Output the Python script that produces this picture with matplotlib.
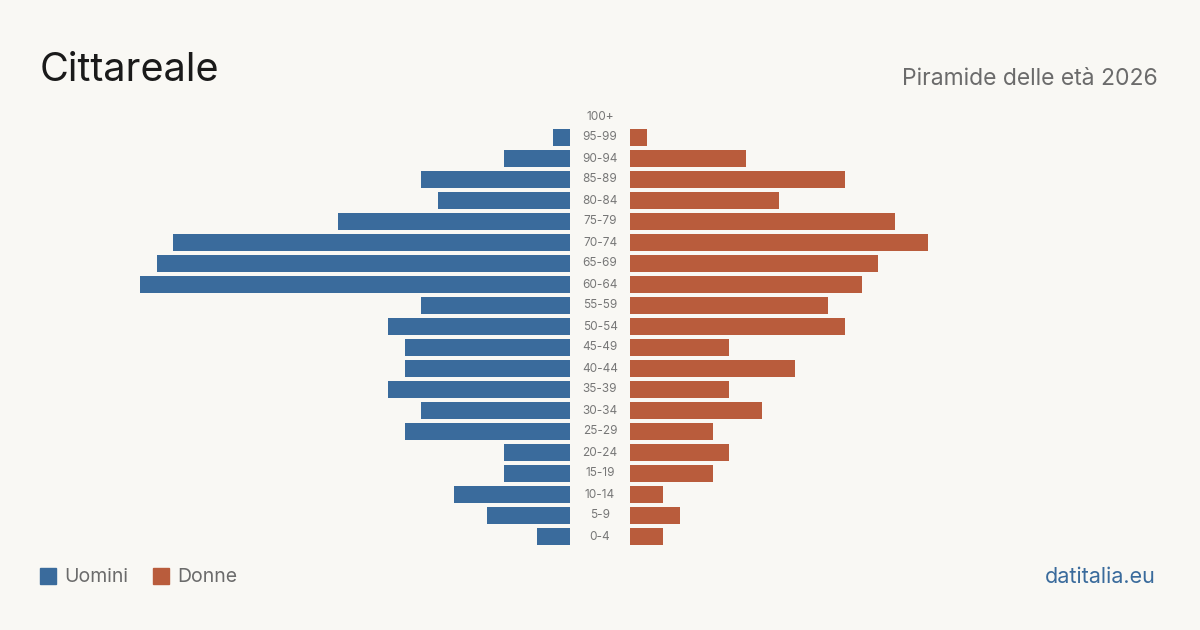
import matplotlib.pyplot as plt

plt.rcParams['font.family'] = ['Inter', 'DejaVu Sans']

# age classes from youngest to oldest
ages = ['0-4', '5-9', '10-14', '15-19', '20-24', '25-29', '30-34', '35-39',
        '40-44', '45-49', '50-54', '55-59', '60-64', '65-69', '70-74',
        '75-79', '80-84', '85-89', '90-94', '95-99', '100+']
men = [2, 5, 7, 4, 4, 10, 9, 11, 10, 10, 11, 9, 26, 25, 24, 14, 8, 9, 4, 1, 0]
women = [2, 3, 2, 5, 6, 5, 8, 6, 10, 6, 13, 12, 14, 15, 18, 16, 9, 13, 7, 1, 0]

bg = '#f9f8f4'
blue = '#3a6b9c'
red = '#b95c3c'

W, H = 1200, 630
fig = plt.figure(figsize=(12, 6.3), dpi=100, facecolor=bg)

top = 106
bottom = 547
xmax = 26

ax_l = fig.add_axes([140 / W, 1 - bottom / H, 430 / W, (bottom - top) / H])
ax_r = fig.add_axes([630 / W, 1 - bottom / H, 430 / W, (bottom - top) / H])

ypos = list(range(len(ages)))
ax_l.barh(ypos, men, height=0.8, color=blue)
ax_r.barh(ypos, women, height=0.8, color=red)
ax_l.set_xlim(xmax, 0)
ax_r.set_xlim(0, xmax)

for ax in (ax_l, ax_r):
    ax.set_ylim(-0.5, len(ages) - 0.5)
    ax.set_facecolor('none')
    ax.axis('off')

# age labels in the middle gap
for i, a in enumerate(ages):
    ax_r.text(-30 / 430 * xmax, i, a, ha='center', va='center',
              fontsize=8.5, color='#777777')

fig.text(40 / W, 1 - 81 / H, 'Cittareale', fontsize=28.5, color='#1a1a1a',
         ha='left', va='baseline')
fig.text(1158 / W, 1 - 85 / H, 'Piramide delle età 2026', fontsize=16.5,
         color='#6b6b6b', ha='right', va='baseline')

# legend
fig.patches.append(plt.Rectangle((40 / W, 1 - 584 / H), 16 / W, 16 / H,
                                 transform=fig.transFigure, color=blue))
fig.text(64 / W, 1 - 577 / H, 'Uomini', fontsize=14, color='#6b6b6b',
         ha='left', va='center')
fig.patches.append(plt.Rectangle((153 / W, 1 - 584 / H), 16 / W, 16 / H,
                                 transform=fig.transFigure, color=red))
fig.text(177 / W, 1 - 577 / H, 'Donne', fontsize=14, color='#6b6b6b',
         ha='left', va='center')

fig.text(1156 / W, 1 - 577 / H, 'datitalia.eu', fontsize=15.5, color=blue,
         ha='right', va='center')

fig.savefig('out.png', dpi=100, facecolor=bg)
